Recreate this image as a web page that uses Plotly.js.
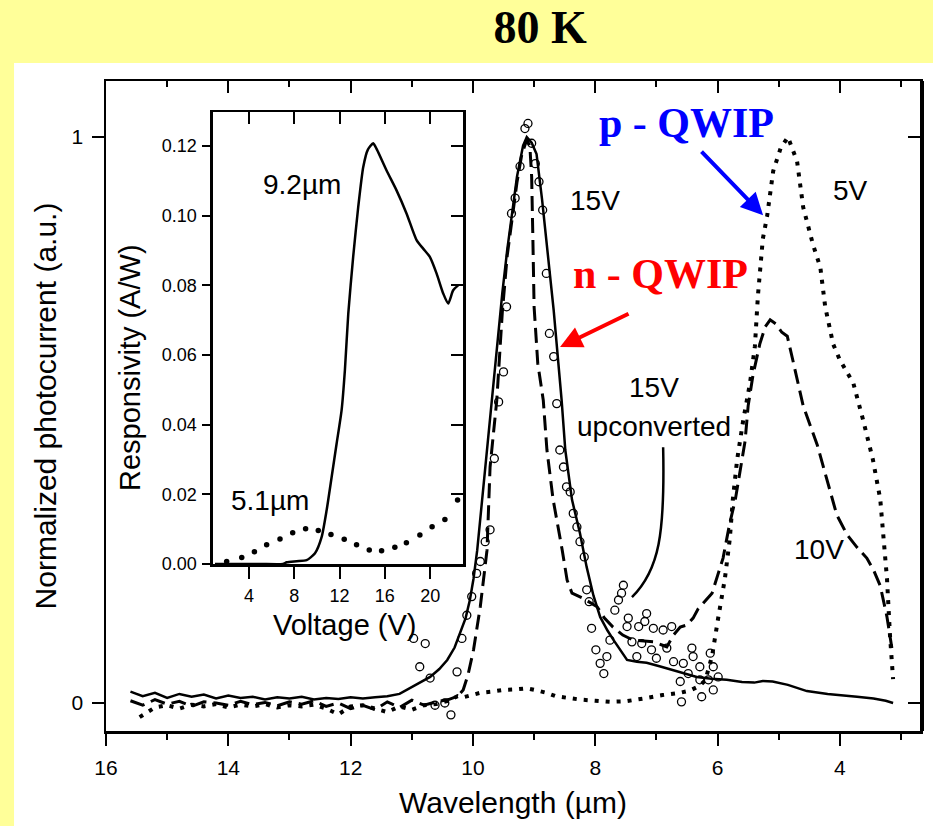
<!DOCTYPE html>
<html>
<head>
<meta charset="utf-8">
<script src="https://cdn.plot.ly/plotly-3.0.1.min.js"></script>
<style>html,body{margin:0;padding:0;background:#FFFF99;}#plot{width:933px;height:826px;}</style>
</head>
<body>
<div id="plot"></div>
<script>
// ---- Main panel: normalized photocurrent vs wavelength ----
// 15 V n-QWIP (solid)
const solidWl = [15.6,15.4,15.2,15.0,14.8,14.6,14.4,14.2,14.0,13.8,13.6,13.4,13.2,13.0,12.8,12.6,12.4,12.2,12.0,11.8,11.6,11.4,11.2,11.08,10.9,10.7,10.55,10.42,10.3,10.21,10.12,10.05,9.99,9.93,9.85,9.77,9.69,9.61,9.52,9.44,9.36,9.28,9.18,9.12,9.04,8.96,8.87,8.79,8.68,8.55,8.49,8.38,8.25,8.14,8.03,7.92,7.80,7.70,7.58,7.48,7.32,7.16,6.95,6.73,6.55,6.34,6.10,5.85,5.60,5.40,5.26,5.10,4.85,4.54,4.20,3.95,3.72,3.45,3.25,3.13];
const solidPc = [0.02,0.012,0.018,0.009,0.016,0.011,0.015,0.008,0.013,0.009,0.011,0.006,0.01,0.008,0.011,0.006,0.009,0.007,0.01,0.008,0.01,0.012,0.016,0.023,0.033,0.046,0.06,0.076,0.098,0.124,0.15,0.182,0.22,0.27,0.36,0.455,0.545,0.636,0.724,0.80,0.87,0.93,0.985,1.0,0.99,0.97,0.89,0.812,0.694,0.535,0.447,0.359,0.30,0.24,0.19,0.152,0.128,0.111,0.092,0.076,0.073,0.071,0.065,0.058,0.052,0.046,0.043,0.041,0.037,0.036,0.039,0.038,0.032,0.021,0.016,0.014,0.011,0.008,0.004,0.0];
// 10 V (dashed)
const dashWl = [15.6,15.4,15.2,15.0,14.8,14.6,14.4,14.2,14.0,13.8,13.6,13.4,13.2,13.0,12.8,12.6,12.4,12.2,12.0,11.8,11.6,11.4,11.2,11.0,10.8,10.6,10.4,10.25,10.16,10.08,9.99,9.88,9.77,9.72,9.61,9.52,9.44,9.36,9.28,9.20,9.12,9.07,9.04,9.02,9.0,8.94,8.85,8.79,8.69,8.54,8.46,8.38,8.2,7.97,7.85,7.71,7.55,7.38,7.2,7.05,6.9,6.83,6.72,6.61,6.50,6.40,6.32,6.20,6.09,6.0,5.91,5.85,5.80,5.71,5.63,5.55,5.50,5.42,5.31,5.22,5.14,5.05,4.95,4.86,4.77,4.60,4.37,4.21,4.05,3.88,3.72,3.56,3.45,3.34,3.23,3.15];
const dashPc = [0.004,-0.004,0.006,-0.002,0.003,-0.006,0.002,0.0,-0.004,0.003,-0.003,0.001,-0.005,0.002,-0.002,0.004,-0.006,0.0,-0.01,-0.004,-0.012,0.002,-0.008,0.005,-0.004,0.002,0.006,0.012,0.023,0.05,0.094,0.17,0.27,0.417,0.535,0.69,0.79,0.86,0.92,0.97,0.995,0.985,0.93,0.82,0.70,0.60,0.535,0.447,0.36,0.27,0.217,0.194,0.185,0.17,0.15,0.134,0.12,0.111,0.11,0.108,0.102,0.099,0.12,0.134,0.138,0.15,0.166,0.18,0.194,0.225,0.256,0.29,0.318,0.359,0.413,0.463,0.525,0.58,0.634,0.665,0.677,0.67,0.655,0.648,0.606,0.525,0.456,0.394,0.332,0.297,0.275,0.256,0.235,0.207,0.152,0.097];
// 5 V p-QWIP (dotted)
const dotWl = [15.45,15.2,15.0,14.8,14.6,14.4,14.2,14.0,13.8,13.6,13.4,13.2,13.0,12.8,12.6,12.4,12.2,12.0,11.8,11.6,11.4,11.2,11.0,10.8,10.6,10.4,10.25,10.16,10.0,9.88,9.7,9.5,9.3,9.12,8.95,8.8,8.65,8.46,8.25,8.0,7.76,7.5,7.3,7.15,6.9,6.75,6.61,6.45,6.30,6.20,6.09,5.99,5.88,5.80,5.75,5.68,5.58,5.47,5.39,5.34,5.31,5.26,5.19,5.09,4.97,4.85,4.70,4.60,4.44,4.32,4.24,4.11,4.0,3.78,3.62,3.46,3.34,3.29,3.23,3.18,3.13];
const dotPc = [-0.025,-0.008,-0.004,-0.01,-0.003,-0.006,-0.002,-0.008,-0.003,-0.006,-0.002,-0.008,-0.004,-0.006,-0.003,-0.01,-0.02,-0.006,-0.004,-0.01,-0.016,-0.006,-0.012,-0.004,-0.002,0.004,0.012,0.01,0.014,0.018,0.02,0.023,0.024,0.026,0.022,0.018,0.012,0.009,0.006,0.004,0.002,0.003,0.006,0.009,0.014,0.016,0.018,0.022,0.03,0.04,0.083,0.15,0.22,0.29,0.36,0.43,0.50,0.565,0.63,0.72,0.76,0.82,0.86,0.94,0.98,1.0,0.957,0.876,0.81,0.77,0.70,0.634,0.606,0.565,0.50,0.43,0.36,0.29,0.22,0.118,0.042];
// 15 V upconverted (open circles)
const upWl = [9.10,9.15,9.04,8.98,9.23,8.92,9.31,9.37,8.86,8.80,9.45,8.75,8.68,9.50,9.58,8.63,9.65,8.58,8.52,8.47,8.41,8.36,8.30,8.25,8.18,9.72,9.80,9.88,9.94,10.02,10.10,10.18,10.26,10.70,10.87,10.97,10.78,10.62,10.46,10.36,8.14,8.10,8.06,7.99,7.92,7.86,7.81,7.76,7.68,7.62,7.57,7.54,7.46,7.48,7.29,7.16,7.19,7.05,6.89,6.75,7.40,7.24,7.08,6.83,7.32,7.00,6.72,6.56,6.42,6.40,6.29,6.12,6.07,5.99,6.15,6.29,6.61,6.48,6.07,6.59,6.26];
const upPc = [1.024,1.015,0.989,0.953,0.948,0.921,0.892,0.865,0.871,0.759,0.70,0.653,0.612,0.585,0.532,0.529,0.432,0.447,0.417,0.382,0.373,0.335,0.311,0.285,0.258,0.306,0.285,0.25,0.229,0.188,0.155,0.114,0.055,0.044,0.064,0.114,0.105,-0.004,0.0,-0.021,0.20,0.179,0.132,0.094,0.07,0.052,0.082,0.111,0.164,0.182,0.194,0.208,0.15,0.135,0.135,0.158,0.144,0.132,0.129,0.135,0.108,0.105,0.094,0.097,0.082,0.079,0.073,0.07,0.097,0.082,0.064,0.088,0.064,0.046,0.041,0.041,0.038,0.052,0.023,0.002,0.011];

// ---- Inset: responsivity vs voltage ----
const v92 = [1.0,3,5,7,7.33,8.2,9.09,9.83,10.42,10.86,11.30,11.74,12.18,12.47,12.77,13.2,13.65,14.09,14.5,14.97,15.3,16.15,17.03,17.92,18.8,19.4,19.97,20.57,21.15,21.59,22.03,22.47];
const r92 = [0,0,0,0,0.0005,0.0008,0.0011,0.0031,0.0078,0.0155,0.025,0.0346,0.0442,0.0557,0.072,0.0882,0.1026,0.114,0.119,0.1208,0.119,0.113,0.1073,0.1006,0.093,0.0905,0.0882,0.0834,0.0777,0.0748,0.0786,0.080];
const v51 = [2.03,3.36,4.48,5.56,6.74,7.86,9.0,10.12,11.24,12.41,13.5,14.62,15.71,16.88,17.9,19.09,20.17,21.3,22.42];
const r51 = [0.0007,0.0019,0.0035,0.0055,0.0072,0.009,0.0101,0.0096,0.0085,0.0071,0.0055,0.004,0.0038,0.0048,0.0061,0.0083,0.0107,0.0128,0.0184];

// ticks
const mainXTicks = [16,14,12,10,8,6,4];
const mainYTicks = [0,1];
const insetXTicks = [4,8,12,16,20];
const insetYTicks = [0,0.02,0.04,0.06,0.08,0.10,0.12];

const FONT = 'Liberation Sans, Arial, sans-serif';
const SERIF = 'Liberation Serif, Times New Roman, serif';

const traces = [
  {x: solidWl, y: solidPc, mode:'lines', line:{color:'#000', width:2.5}, xaxis:'x', yaxis:'y'},
  {x: dashWl, y: dashPc, mode:'lines', line:{color:'#000', width:3, dash:'15px,7px'}, xaxis:'x', yaxis:'y'},
  {x: dotWl, y: dotPc, mode:'lines', line:{color:'#000', width:4, dash:'4px,7px'}, xaxis:'x', yaxis:'y'},
  {x: upWl, y: upPc, mode:'markers', marker:{symbol:'circle-open', size:8, color:'#000', line:{width:1.3, color:'#000'}}, xaxis:'x', yaxis:'y'},
  {x: v92, y: r92, mode:'lines', line:{color:'#000', width:2.5, shape:'spline', smoothing:0.6}, xaxis:'x2', yaxis:'y2'},
  {x: v51, y: r51, mode:'markers', marker:{color:'#000', size:5.5}, xaxis:'x2', yaxis:'y2'},
  // empty helpers so the mirrored inward-tick axes are drawn
  {x: [], y: [], xaxis:'x3', yaxis:'y'},
  {x: [], y: [], xaxis:'x', yaxis:'y3'},
  {x: [], y: [], xaxis:'x4', yaxis:'y2'},
  {x: [], y: [], xaxis:'x2', yaxis:'y4'}
];

const xr = [16, 2.69], yr = [-0.0495, 1.099];
const ixr = [0.82, 22.9], iyr = [0, 0.1298];
const insetDomX = [0.1314, 0.4386], insetDomY = [0.2569, 0.9523];

const layout = {
  width: 933, height: 826,
  margin: {l:106, r:13, t:81, b:95},
  paper_bgcolor: '#FFFF99',
  plot_bgcolor: '#FFFFFF',
  showlegend: false,
  hovermode: false,
  font: {family: FONT, color:'#000'},
  title: {text:'<b>80 K</b>', font:{family:SERIF, size:46, color:'#000'}, x:0.579, xref:'container', y:0.968, yref:'container', xanchor:'center', yanchor:'middle'},
  xaxis: {range: xr, domain:[0,1], anchor:'y', tickvals: mainXTicks, ticks:'outside', ticklen:12, tickwidth:2, tickcolor:'#000',
          minor:{dtick:1, tick0:0, ticks:'outside', ticklen:6, tickwidth:2, tickcolor:'#000'},
          showline:true, linewidth:2.5, linecolor:'#000', mirror:true, showgrid:false, zeroline:false,
          tickfont:{size:21, family:FONT}, ticklabelstandoff:4,
          title:{text:'Wavelength (µm)', font:{size:30, family:FONT}, standoff:15}},
  yaxis: {range: yr, domain:[0,1], anchor:'x', tickvals: mainYTicks, ticks:'outside', ticklen:12, tickwidth:2, tickcolor:'#000',
          showline:true, linewidth:2.5, linecolor:'#000', mirror:true, showgrid:false, zeroline:false,
          tickfont:{size:21, family:FONT}, ticklabelstandoff:4,
          title:{text:'Normalized photocurrent (a.u.)', font:{size:30, family:FONT}, standoff:6}},
  xaxis3: {range: xr, overlaying:'x', side:'top', anchor:'y', tickvals: mainXTicks, ticks:'inside', ticklen:12, tickwidth:2, tickcolor:'#000',
          minor:{dtick:1, tick0:0, ticks:'inside', ticklen:6, tickwidth:2, tickcolor:'#000'},
          showticklabels:false, showline:false, showgrid:false, zeroline:false},
  yaxis3: {range: yr, overlaying:'y', side:'right', anchor:'x', tickvals: mainYTicks, ticks:'inside', ticklen:12, tickwidth:2, tickcolor:'#000',
          showticklabels:false, showline:true, linewidth:4, linecolor:'#000', showgrid:false, zeroline:false},
  xaxis2: {range: ixr, domain: insetDomX, anchor:'y2', tickvals: insetXTicks, ticks:'outside', ticklen:12, tickwidth:2, tickcolor:'#000',
          showline:true, linewidth:2.5, linecolor:'#000', mirror:true, showgrid:false, zeroline:false,
          tickfont:{size:18, family:FONT}, ticklabelstandoff:2},
  yaxis2: {range: iyr, domain: insetDomY, anchor:'x2', tickvals: insetYTicks, tickformat:'.2f', ticks:'outside', ticklen:8, tickwidth:2, tickcolor:'#000',
          showline:true, linewidth:2.5, linecolor:'#000', mirror:true, showgrid:false, zeroline:false,
          tickfont:{size:18, family:FONT}, ticklabelstandoff:2},
  xaxis4: {range: ixr, overlaying:'x2', side:'top', anchor:'y2', tickvals: insetXTicks, ticks:'inside', ticklen:12, tickwidth:2, tickcolor:'#000',
          showticklabels:false, showline:false, showgrid:false, zeroline:false},
  yaxis4: {range: iyr, overlaying:'y2', side:'right', anchor:'x2', tickvals: insetYTicks, ticks:'inside', ticklen:12, tickwidth:2, tickcolor:'#000',
          showticklabels:false, showline:false, showgrid:false, zeroline:false},
  shapes: [
    {type:'rect', xref:'paper', yref:'paper', x0:-0.113, x1:1.02, y0:-0.15, y1:1.0277, fillcolor:'#FFFFFF', line:{width:0}, layer:'below'},
    {type:'path', xref:'x', yref:'y', path:'M6.89,0.452 C6.86,0.30 6.95,0.235 7.40,0.187', line:{color:'#000', width:2.5}}
  ],
  annotations: [
    // inset axis titles (placed like the reference, not centred on the axis)
    {xref:'paper', yref:'paper', x:(344-106)/814, y:(731-625)/650, xanchor:'center', yanchor:'middle', text:'Voltage (V)', showarrow:false, font:{size:29, family:FONT}},
    {xref:'paper', yref:'paper', x:(130-106)/814, y:(731-368)/650, xanchor:'center', yanchor:'middle', text:'Responsivity (A/W)', textangle:-90, showarrow:false, font:{size:29, family:FONT}},
    {xref:'x', yref:'y', x:6.515, y:1.025, text:'<b>p - QWIP</b>', showarrow:false, font:{family:SERIF, size:42, color:'#0000FF'}},
    {xref:'x', yref:'y', x:6.94, y:0.758, text:'<b>n - QWIP</b>', showarrow:false, font:{family:SERIF, size:42, color:'#FF0000'}},
    {xref:'x', yref:'y', x:5.256, y:0.862, text:'', showarrow:true, ax:-63, ay:-65, arrowcolor:'#0000FF', arrowwidth:4, arrowhead:2, arrowsize:1.1},
    {xref:'x', yref:'y', x:8.576, y:0.629, text:'', showarrow:true, ax:70, ay:-34, arrowcolor:'#FF0000', arrowwidth:4, arrowhead:2, arrowsize:1.1},
    {xref:'x', yref:'y', x:8.00, y:0.887, text:'15V', showarrow:false, font:{size:28, family:FONT}},
    {xref:'x', yref:'y', x:3.83, y:0.905, text:'5V', showarrow:false, font:{size:28, family:FONT}},
    {xref:'x', yref:'y', x:7.04, y:0.558, text:'15V', showarrow:false, font:{size:28, family:FONT}},
    {xref:'x', yref:'y', x:7.04, y:0.488, text:'upconverted', showarrow:false, font:{size:28, family:FONT}},
    {xref:'x', yref:'y', x:4.34, y:0.272, text:'10V', showarrow:false, font:{size:28, family:FONT}},
    {xref:'x2', yref:'y2', x:8.68, y:0.109, text:'9.2µm', showarrow:false, font:{size:28, family:FONT}},
    {xref:'x2', yref:'y2', x:5.85, y:0.0181, text:'5.1µm', showarrow:false, font:{size:28, family:FONT}}
  ]
};

Plotly.newPlot('plot', traces, layout, {displayModeBar:false, staticPlot:true});
</script>
</body>
</html>
